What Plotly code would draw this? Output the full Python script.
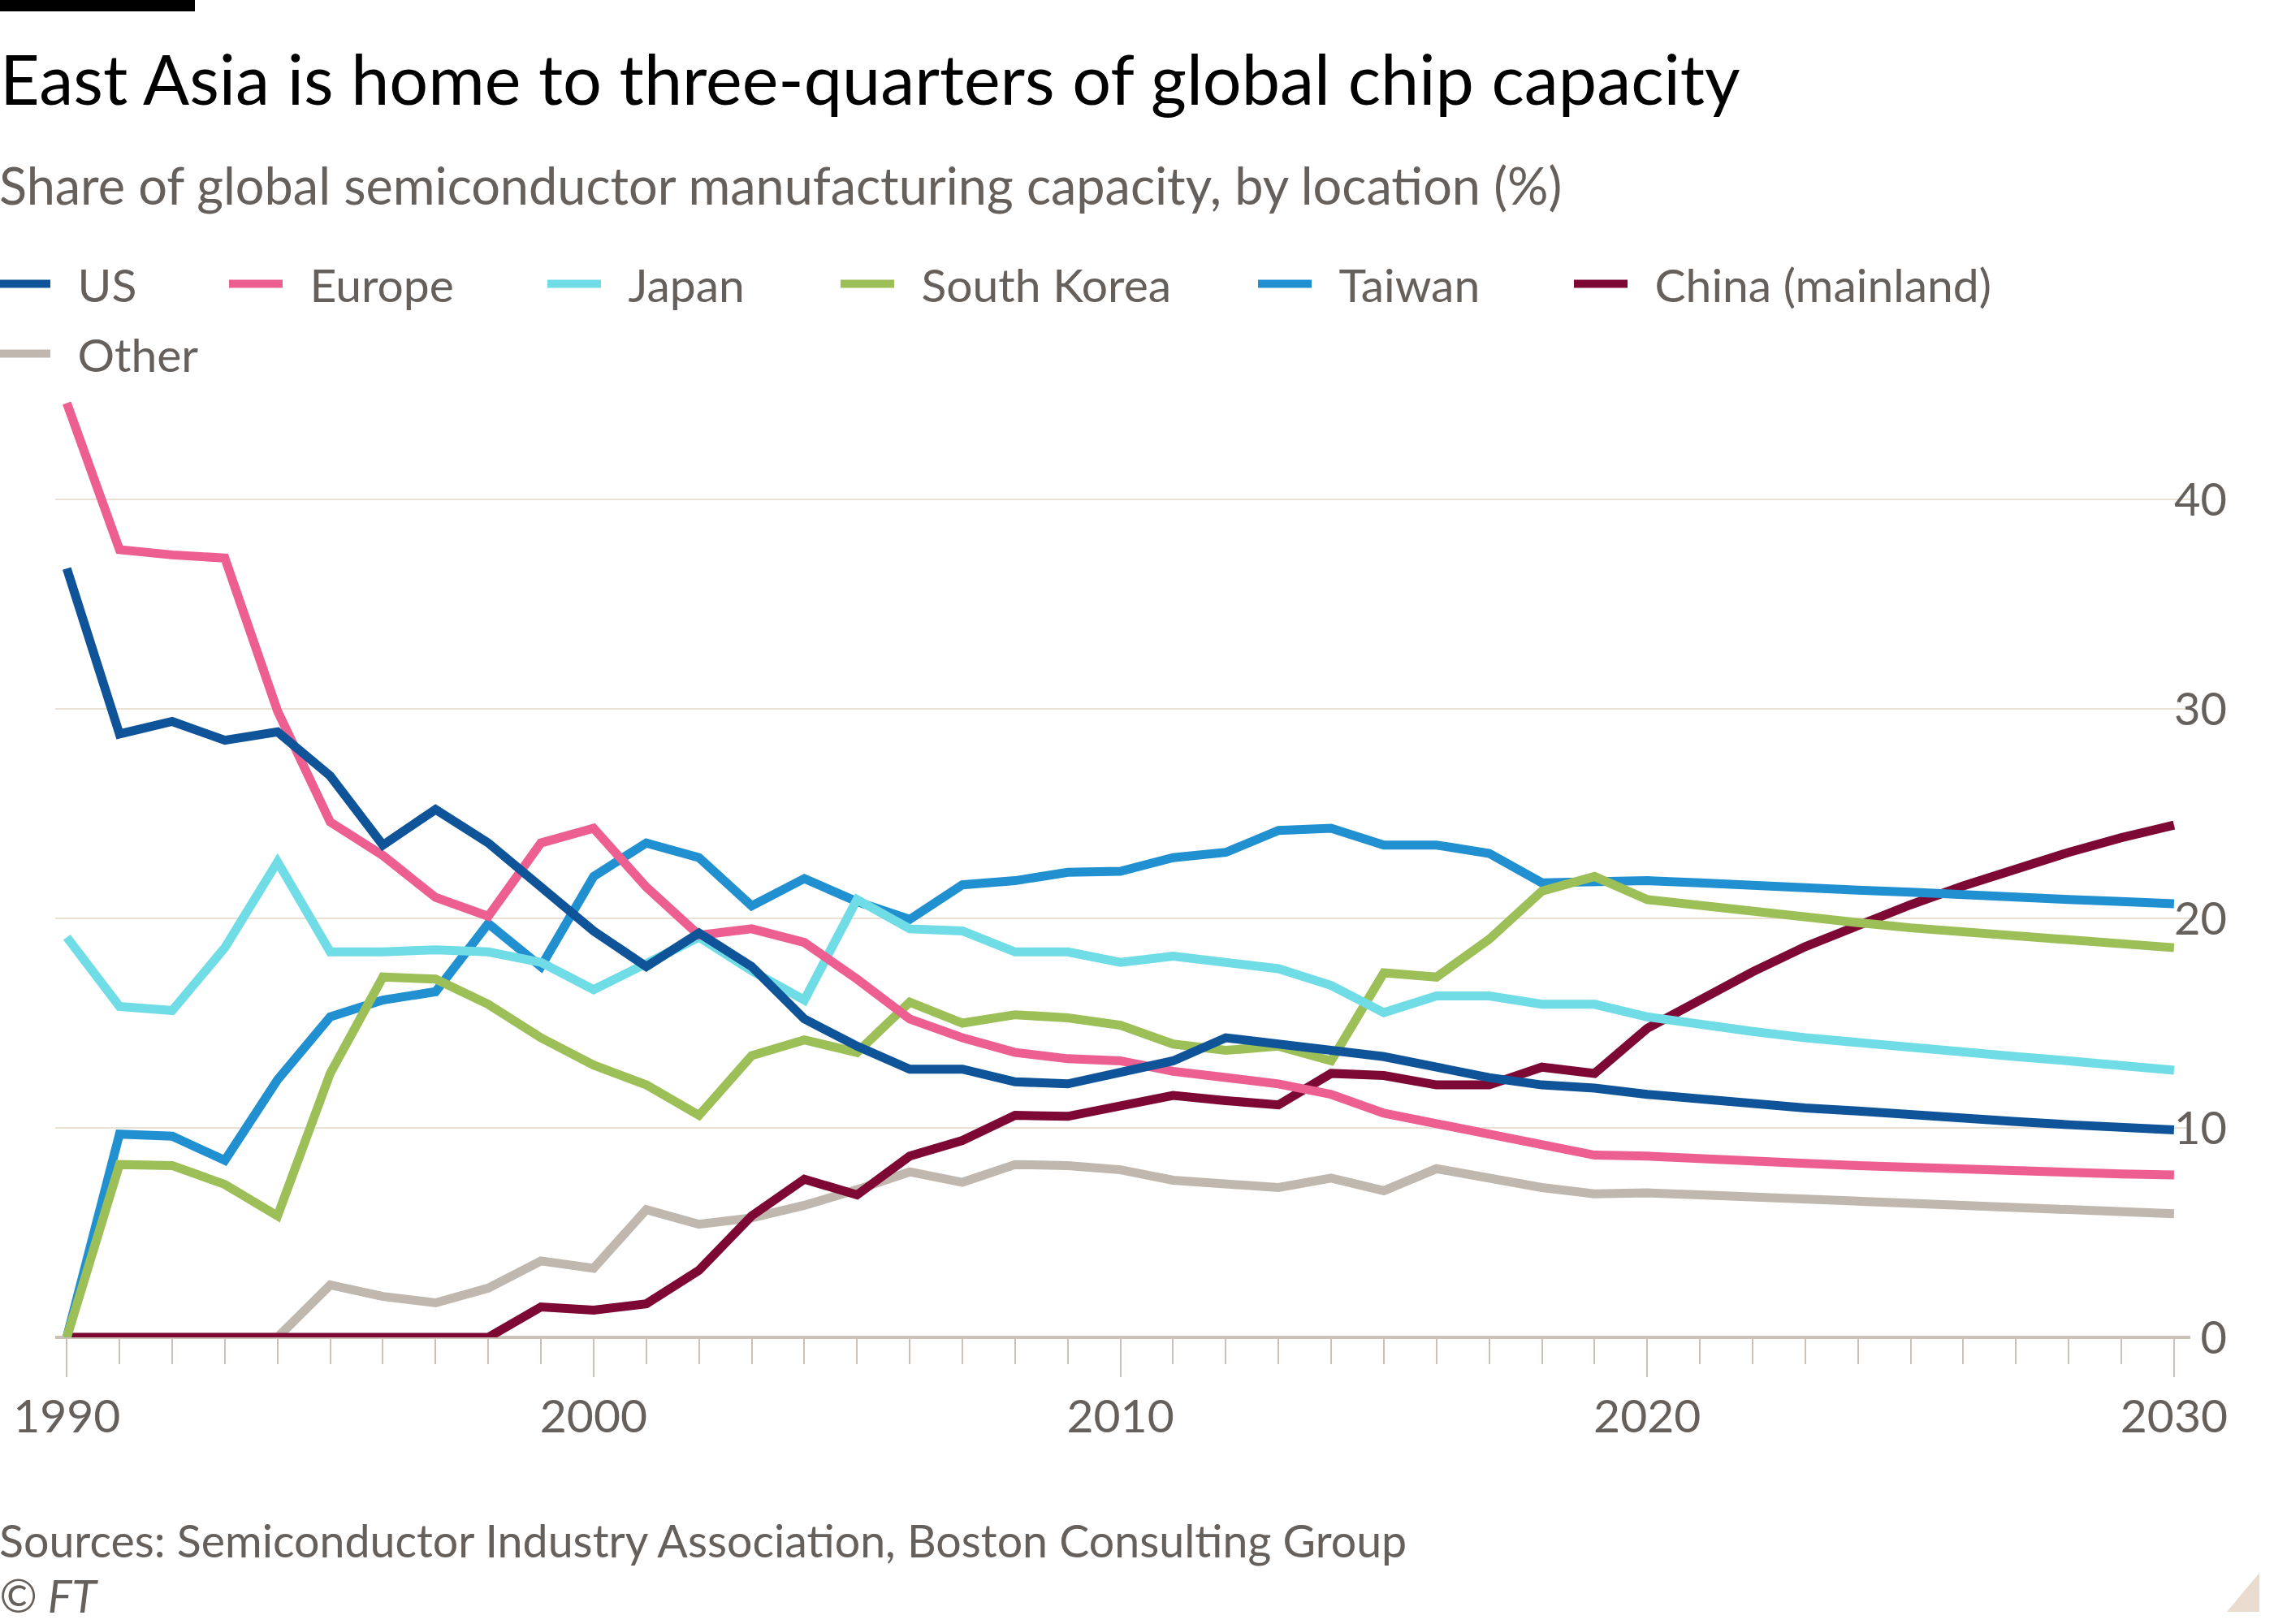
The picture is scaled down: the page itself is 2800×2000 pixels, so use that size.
import plotly.graph_objects as go

years = list(range(1990, 2031))

us = [36.7, 28.8, 29.4, 28.5, 28.9, 26.8, 23.5, 25.2, 23.6, 21.5,
      19.4, 17.7, 19.3, 17.7, 15.2, 13.9, 12.8, 12.8, 12.2, 12.1,
      12.6, 13.2, 14.3, 14.0, 13.7, 13.4, 12.9, 12.4, 12.05, 11.9,
      11.6, 11.35, 11.15, 10.95, 10.8, 10.6, 10.45, 10.3, 10.15, 10.0, 9.9]
europe = [44.6, 37.6, 37.35, 37.2, 29.9, 24.6, 23.0, 21.0, 20.1, 23.6,
          24.3, 21.5, 19.2, 19.5, 18.85, 17.1, 15.2, 14.3, 13.6, 13.3,
          13.2, 12.7, 12.4, 12.1, 11.6, 10.7, 10.2, 9.7, 9.15, 8.7,
          8.65, 8.5, 8.4, 8.3, 8.2, 8.1, 8.0, 7.95, 7.9, 7.8, 7.75]
japan = [19.1, 15.8, 15.6, 18.6, 22.7, 18.4, 18.4, 18.5, 18.4, 17.9,
         16.6, 17.8, 19.1, 17.5, 16.1, 20.9, 19.5, 19.4, 18.4, 18.4,
         17.9, 18.2, 17.9, 17.6, 16.8, 15.5, 16.3, 16.3, 15.9, 15.9,
         15.3, 14.9, 14.6, 14.3, 14.05, 13.8, 13.6, 13.4, 13.2, 12.95, 12.75]
south_korea = [0, 8.25, 8.2, 7.3, 5.8, 12.6, 17.2, 17.1, 15.9, 14.3,
               13.0, 12.05, 10.6, 13.45, 14.2, 13.6, 16.0, 15.0, 15.4, 15.25,
               14.9, 14.0, 13.7, 13.9, 13.2, 17.4, 17.2, 19.0, 21.3, 22.0,
               20.9, 20.6, 20.3, 20.05, 19.8, 19.55, 19.35, 19.15, 18.95, 18.75, 18.6]
taiwan = [0, 9.7, 9.6, 8.45, 12.3, 15.3, 16.1, 16.5, 19.75, 17.7,
          22.0, 23.6, 22.9, 20.6, 21.9, 20.8, 19.95, 21.6, 21.8, 22.2,
          22.25, 22.9, 23.15, 24.2, 24.3, 23.5, 23.5, 23.1, 21.7, 21.8,
          21.8, 21.7, 21.55, 21.45, 21.35, 21.25, 21.1, 21.0, 20.9, 20.8, 20.7]
china = [0, 0, 0, 0, 0, 0, 0, 0, 0, 1.45,
         1.3, 1.6, 3.2, 5.8, 7.55, 6.8, 8.65, 9.4, 10.6, 10.55,
         11.1, 11.55, 11.3, 11.1, 12.6, 12.5, 12.05, 12.05, 12.9, 12.6,
         14.75, 16.15, 17.45, 18.65, 19.7, 20.65, 21.55, 22.4, 23.15, 23.85, 24.45]
other = [0, 0, 0, 0, 0, 2.5, 1.95, 1.65, 2.35, 3.65,
         3.3, 6.1, 5.4, 5.7, 6.3, 7.05, 7.9, 7.4, 8.25, 8.2,
         8.0, 7.5, 7.35, 7.15, 7.6, 7.0, 8.05, 7.55, 7.15, 6.85,
         6.9, 6.8, 6.7, 6.6, 6.5, 6.4, 6.3, 6.2, 6.1, 6.0, 5.9]

y_ticks = [0, 10, 20, 30, 40]
y_tick_text = ["\u20070", "10", "20", "30", "40"]  # figure space right-aligns the 0
x_ticks = [1990, 2000, 2010, 2020, 2030]

W, H = 2800, 2000
ML, MR, MT, MB = 68, 103, 486, 353
PW, PH = W - ML - MR, H - MT - MB
FONT = "Lato, 'Noto Sans', sans-serif"
GREY = "#66605c"
LEG_PAD = 9  # plotly's own inset before the legend swatch


def px_x(px):
    return (px - ML) / PW


def px_y(py):
    return (H - MB - py) / PH


# drawn bottom to top: Other first, US last
# (name, values, colour, legend id, legend x px, legend row y px)
series = [
    ("Other", other, "#c0b8ae", "legend7", 0, 436),
    ("China (mainland)", china, "#7d0833", "legend6", 1942, 350),
    ("Taiwan", taiwan, "#2090d0", "legend5", 1553, 350),
    ("South Korea", south_korea, "#9dbf57", "legend4", 1039, 350),
    ("Japan", japan, "#70dde6", "legend3", 678, 350),
    ("Europe", europe, "#ed5f91", "legend2", 286, 350),
    ("US", us, "#0f5499", "legend", 0, 350),
]

fig = go.Figure()
legends = {}
for name, vals, color, leg, lx, ly in series:
    fig.add_trace(go.Scatter(
        x=years, y=vals, name="\u2002" + name, mode="lines",
        line=dict(color=color, width=11),
        legend=leg, showlegend=True,
    ))
    legends[leg] = dict(
        x=px_x(lx - LEG_PAD), y=px_y(ly),
        orientation="h", xanchor="left", yanchor="middle",
        font=dict(family=FONT, size=57, color=GREY),
        itemwidth=66, bgcolor="rgba(0,0,0,0)",
    )

fig.update_layout(
    width=W, height=H,
    showlegend=True,
    margin=dict(l=ML, r=MR, t=MT, b=MB, autoexpand=False),
    paper_bgcolor="white", plot_bgcolor="white",
    font=dict(family=FONT, color=GREY),
    title=dict(
        text="East Asia is home to three-quarters of global chip capacity",
        xref="container", yref="container", x=0, xanchor="left",
        y=1 - 99 / H, yanchor="middle",
        font=dict(family=FONT, size=84.5, color="#000000"),
    ),
    xaxis=dict(
        range=[1989.78, 2030.31],
        tickvals=x_ticks,
        ticks="outside", ticklen=48, tickwidth=2, tickcolor="#ccc1b7",
        minor=dict(dtick=1, tick0=1990, ticks="outside", ticklen=32,
                   tickwidth=2, tickcolor="#ccc1b7", showgrid=False),
        showgrid=False, showline=False, zeroline=False,
        tickfont=dict(family=FONT, size=57, color=GREY),
        fixedrange=True,
    ),
    yaxis=dict(
        range=[0, 45], side="right",
        tickvals=y_ticks, ticktext=y_tick_text, ticks="",
        ticklabelstandoff=-21,
        showgrid=True, gridcolor="#e9e0d6", gridwidth=2,
        zeroline=True, zerolinecolor="#ccc1b7", zerolinewidth=4,
        showline=False,
        tickfont=dict(family=FONT, size=56, color=GREY),
        fixedrange=True,
    ),
    shapes=[
        dict(type="rect", xref="paper", yref="paper",
             x0=px_x(0), x1=px_x(240), y0=px_y(14), y1=px_y(0),
             fillcolor="#000000", line=dict(width=0)),
        dict(type="path", xref="paper", yref="paper",
             path=f"M {px_x(2782)} {px_y(1937)} L {px_x(2782)} {px_y(1985)} "
                  f"L {px_x(2742)} {px_y(1985)} Z",
             fillcolor="#e9dccf", line=dict(width=0)),
    ],
    annotations=[
        dict(text="Share of global semiconductor manufacturing capacity, by location (%)",
             xref="paper", yref="paper", x=px_x(-3), y=px_y(228),
             xanchor="left", yanchor="middle", showarrow=False,
             font=dict(family=FONT, size=63, color=GREY)),
        dict(text="Sources: Semiconductor Industry Association, Boston Consulting Group",
             xref="paper", yref="paper", x=px_x(-3), y=px_y(1896),
             xanchor="left", yanchor="middle", showarrow=False,
             font=dict(family=FONT, size=55.5, color=GREY)),
        dict(text="<i>© FT</i>",
             xref="paper", yref="paper", x=px_x(-3), y=px_y(1964),
             xanchor="left", yanchor="middle", showarrow=False,
             font=dict(family=FONT, size=56, color=GREY)),
    ],
    **legends,
)

# the page's default body margin would push the figure 8px off the corner
fig.write_html("out.html", config={"displayModeBar": False},
               post_script="document.body.style.margin='0px';")
